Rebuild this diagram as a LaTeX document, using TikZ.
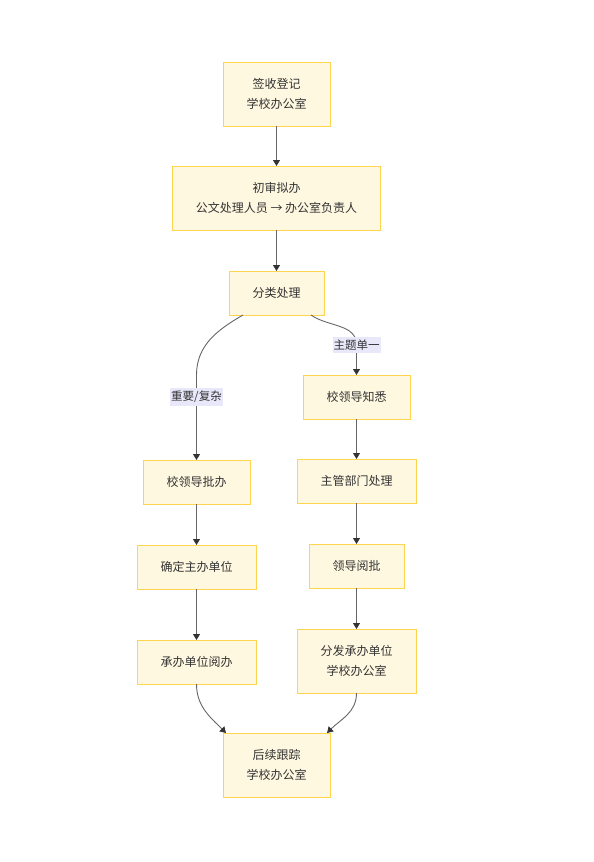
\documentclass[tikz,border=0pt]{standalone}
\usepackage{fontspec}
\setmainfont{Noto Sans CJK SC}
\usepackage{tikz}
\usetikzlibrary{positioning, arrows.meta}
\definecolor{boxfill}{HTML}{FFF8E1}
\definecolor{boxline}{HTML}{FFD54F}
\definecolor{lblfill}{HTML}{E8E8FA}
\definecolor{edge}{HTML}{666666}

\begin{document}
\begin{tikzpicture}[x=1pt, y=1pt, font=\fontsize{12}{20}\selectfont,
  >={Triangle[length=6pt, width=7pt, color=black!80]},
  b/.style={draw=boxline, line width=0.8pt, fill=boxfill, align=center, inner xsep=23.5pt, inner ysep=0pt, outer sep=0pt, minimum height=44pt, text=black!80},
  bb/.style={b, minimum height=64pt},
  lbl/.style={fill=lblfill, inner xsep=1pt, inner ysep=3pt, font=\fontsize{11.5}{13}\selectfont, text=black!80},
  e/.style={draw=edge, line width=0.9pt, ->}]
  \useasboundingbox (0,0) rectangle (594,-862);
  \node[bb] (sign) at (276.5,-94) {签收登记\\学校办公室};
  \node[bb, below=40pt of sign] (review) {初审拟办\\公文处理人员 → 办公室负责人};
  \node[b, below=41pt of review] (classify) {分类处理};
  \node[b, below=60pt of classify, xshift=80pt] (notify) {校领导知悉};
  \node[b, below=145pt of classify, xshift=-80pt] (approve) {校领导批办};
  \node[b, below=40pt of notify] (dept) {主管部门处理};
  \node[b, below=41pt of approve] (host) {确定主办单位};
  \node[b, below=41pt of dept] (lead) {领导阅批};
  \node[b, below=51pt of host] (handle) {承办单位阅办};
  \node[bb, below=41pt of lead] (dist) {分发承办单位\\学校办公室};
  \node[bb, below=40pt of dist, xshift=-80pt] (track) {后续跟踪\\学校办公室};

  \draw[e] (sign)--(review); \draw[e] (review)--(classify);
  \draw[e] ([xshift=14pt]classify.south west) to[out=-150, in=90] (approve.north |- notify.north)
    -- node[lbl, pos=0.26]{重要/复杂} (approve);
  \draw[e] ([xshift=-13pt]classify.south east) to[out=-35, in=90] node[lbl, pos=1]{主题单一} ([yshift=30pt]notify.north)
    -- (notify);
  \draw[e] (approve)--(host); \draw[e] (host)--(handle);
  \draw[e] (notify)--(dept); \draw[e] (dept)--(lead); \draw[e] (lead)--(dist);
  \draw[e] (handle.south) to[out=-90, in=135] ([xshift=3pt]track.north west);
  \draw[e] (dist.south) to[out=-90, in=45] ([xshift=-3pt]track.north east);
\end{tikzpicture}
\end{document}
